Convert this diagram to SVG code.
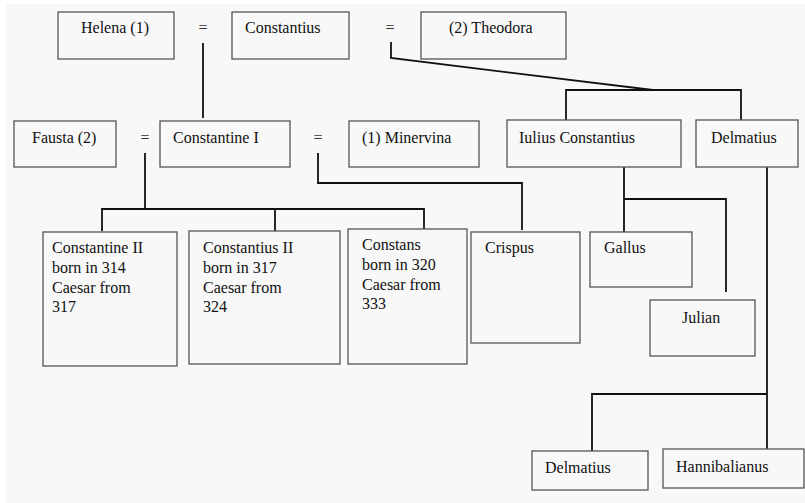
<svg xmlns="http://www.w3.org/2000/svg" width="805" height="503" viewBox="0 0 805 503">
<style>
.b{fill:#f8f8f8;stroke:#555;stroke-width:1.3}
.t{font-family:'Liberation Serif','DejaVu Serif',serif;font-size:16px;fill:#111}
.eq{font-family:'Liberation Serif','DejaVu Serif',serif;font-size:16px;fill:#333;text-anchor:middle}
.c{fill:none;stroke:#111;stroke-width:1.8}
</style>
<rect width="805" height="503" fill="#fff"/>
<rect x="6" y="4" width="799" height="499" fill="#f8f8f8"/>
<g id="connectors">
<path class="c" d="M203,43V118"/>
<path class="c" d="M391,42V58L653,90"/>
<path class="c" d="M566,120V90H741V120"/>
<path class="c" d="M145,153V209"/>
<path class="c" d="M102,231V209H424V229"/>
<path class="c" d="M275,209V231"/>
<path class="c" d="M318,153V183H522V230"/>
<path class="c" d="M624,167V232"/>
<path class="c" d="M624,199H726V292"/>
<path class="c" d="M767,167V449"/>
<path class="c" d="M767,394H592V451"/>
</g>
<g id="helena"><rect class="b" x="58" y="12" width="116" height="47"/><text class="t" x="81" y="33">Helena (1)</text></g>
<g id="eq1"><text class="eq" x="203" y="33">=</text></g>
<g id="constantius"><rect class="b" x="232" y="12" width="117" height="47"/><text class="t" x="245" y="33">Constantius</text></g>
<g id="eq2"><text class="eq" x="390" y="33">=</text></g>
<g id="theodora"><rect class="b" x="421" y="12" width="145" height="47"/><text class="t" x="449" y="33">(2) Theodora</text></g>
<g id="fausta"><rect class="b" x="14" y="121" width="102" height="46"/><text class="t" x="32" y="143">Fausta (2)</text></g>
<g id="eq3"><text class="eq" x="145" y="143">=</text></g>
<g id="constantine1"><rect class="b" x="160" y="121" width="130" height="46"/><text class="t" x="173" y="143">Constantine I</text></g>
<g id="eq4"><text class="eq" x="318" y="143">=</text></g>
<g id="minervina"><rect class="b" x="349" y="121" width="130" height="46"/><text class="t" x="362" y="143">(1) Minervina</text></g>
<g id="iulius"><rect class="b" x="507" y="120" width="174" height="47"/><text class="t" x="519" y="143">Iulius Constantius</text></g>
<g id="delmatius"><rect class="b" x="696" y="120" width="102" height="47"/><text class="t" x="711" y="143">Delmatius</text></g>
<g id="constantine2"><rect class="b" x="43" y="232" width="134" height="134"/><text class="t" x="52" y="253">Constantine II<tspan x="52" y="273">born in 314</tspan><tspan x="52" y="293">Caesar from</tspan><tspan x="52" y="312">317</tspan></text></g>
<g id="constantius2"><rect class="b" x="189" y="231" width="151" height="133"/><text class="t" x="203" y="253">Constantius II<tspan x="203" y="273">born in 317</tspan><tspan x="203" y="293">Caesar from</tspan><tspan x="203" y="312">324</tspan></text></g>
<g id="constans"><rect class="b" x="348" y="229" width="119" height="135"/><text class="t" x="362" y="250">Constans<tspan x="362" y="270">born in 320</tspan><tspan x="362" y="290">Caesar from</tspan><tspan x="362" y="309">333</tspan></text></g>
<g id="crispus"><rect class="b" x="471" y="232" width="109" height="111"/><text class="t" x="485" y="253">Crispus</text></g>
<g id="gallus"><rect class="b" x="590" y="232" width="102" height="55"/><text class="t" x="604" y="253">Gallus</text></g>
<g id="julian"><rect class="b" x="650" y="300" width="105" height="56"/><text class="t" x="682" y="323">Julian</text></g>
<g id="delmatius2"><rect class="b" x="532" y="451" width="116" height="39"/><text class="t" x="545" y="473">Delmatius</text></g>
<g id="hannibalianus"><rect class="b" x="663" y="449" width="141" height="39"/><text class="t" x="676" y="472">Hannibalianus</text></g>
</svg>
